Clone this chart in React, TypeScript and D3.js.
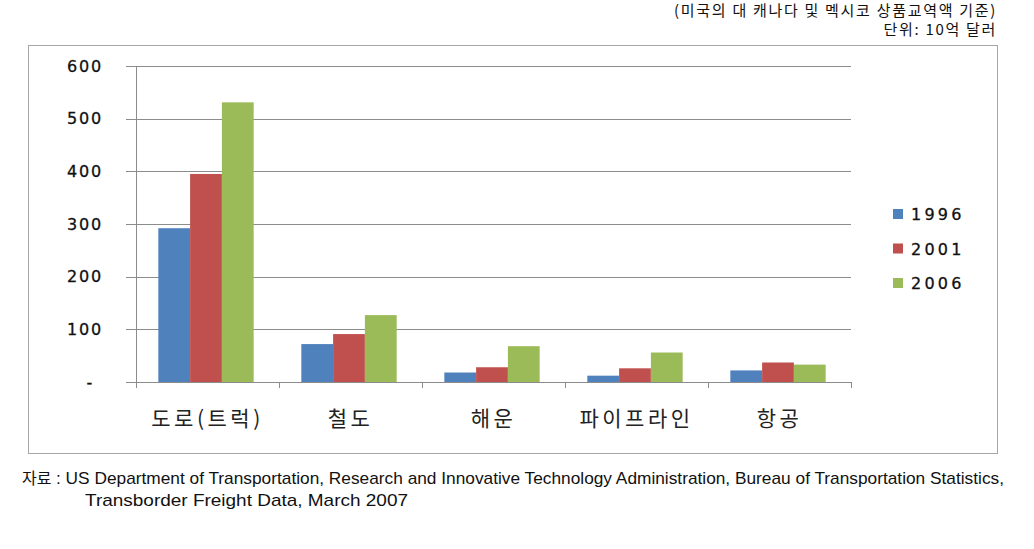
import React, { useEffect, useRef } from 'react';
import * as d3 from 'd3';

const categories = ['도로(트럭)', '철도', '해운', '파이프라인', '항공'];
const seriesNames = ['1996', '2001', '2006'];
const values1996 = [292, 72, 18, 12, 22];
const values2001 = [395, 91, 28, 26, 37];
const values2006 = [531, 127, 68, 56, 33];
const yTicks = [0, 100, 200, 300, 400, 500, 600];
const colors = ['#4F81BD', '#C0504D', '#9BBB59'];

const App: React.FC = () => {
  const svgRef = useRef<SVGSVGElement>(null);
  const width = 1034;
  const height = 549;

  useEffect(() => {
    if (!svgRef.current) return;
    const svg = d3.select(svgRef.current);
    svg.selectAll('*').remove();

    svg.append('rect').attr('width', width).attr('height', height).attr('fill', '#fff');

    // outer chart frame
    svg.append('rect')
      .attr('x', 28.5).attr('y', 45.5)
      .attr('width', 969).attr('height', 408)
      .attr('fill', 'none')
      .attr('stroke', '#a6a6a6')
      .attr('stroke-width', 1);

    const plot = { left: 136, right: 851, top: 66, bottom: 382 };

    const x = d3.scaleBand<string>()
      .domain(categories)
      .range([plot.left, plot.right])
      .paddingInner(0)
      .paddingOuter(0);

    // bars take ~2/3 of each category slot
    const inner = d3.scaleBand<string>()
      .domain(seriesNames)
      .range([-1.5, x.bandwidth() - 1.5])
      .paddingOuter(0.75)
      .paddingInner(0);

    const y = d3.scaleLinear().domain([0, 600]).range([plot.bottom, plot.top]);

    const g = svg.append('g');

    // gridlines + y labels
    yTicks.forEach(t => {
      g.append('line')
        .attr('x1', plot.left - 10).attr('x2', plot.right)
        .attr('y1', Math.round(y(t)) + 0.5).attr('y2', Math.round(y(t)) + 0.5)
        .attr('stroke', '#8c8c8c').attr('stroke-width', 1);
      g.append('text')
        .attr('x', t === 0 ? 94 : 103)
        .attr('y', y(t) + 5.5)
        .attr('text-anchor', 'end')
        .attr('font-family', 'DejaVu Sans, Verdana, sans-serif')
        .attr('font-size', 16)
        .attr('letter-spacing', 1.8)
        .attr('fill', '#111')
        .attr('stroke', '#111')
        .attr('stroke-width', 0.3)
        .text(t === 0 ? '-' : String(t));
    });

    // y axis
    g.append('line')
      .attr('x1', plot.left + 0.5).attr('x2', plot.left + 0.5)
      .attr('y1', plot.top).attr('y2', plot.bottom + 6)
      .attr('stroke', '#8c8c8c');

    // x ticks
    const tickPos = categories.map(c => x(c) as number).concat([plot.right]);
    tickPos.forEach(p => {
      g.append('line')
        .attr('x1', Math.round(p) + 0.5).attr('x2', Math.round(p) + 0.5)
        .attr('y1', plot.bottom).attr('y2', plot.bottom + 6)
        .attr('stroke', '#8c8c8c');
    });

    const series = [values1996, values2001, values2006];
    series.forEach((vals, si) => {
      g.selectAll(`.bar-${si}`)
        .data(vals)
        .enter()
        .append('rect')
        .attr('x', (_d, i) => (x(categories[i]) as number) + (inner(seriesNames[si]) as number))
        .attr('y', d => y(d))
        .attr('width', inner.bandwidth())
        .attr('height', d => plot.bottom - y(d))
        .attr('fill', colors[si]);
    });

    // category labels
    categories.forEach(c => {
      g.append('text')
        .attr('x', (x(c) as number) + x.bandwidth() / 2)
        .attr('y', 426)
        .attr('text-anchor', 'middle')
        .attr('font-family', 'Noto Sans CJK KR, sans-serif')
        .attr('font-size', 21)
        .attr('letter-spacing', 3.5)
        .attr('fill', '#222')
        .text(c);
    });

    // legend
    const legend = svg.append('g');
    seriesNames.forEach((s, i) => {
      const ly = 214 + i * 34.5;
      legend.append('rect')
        .attr('x', 893).attr('y', ly - 5)
        .attr('width', 10).attr('height', 10)
        .attr('fill', colors[i]);
      legend.append('text')
        .attr('x', 911).attr('y', ly + 6)
        .attr('font-family', 'DejaVu Sans, Verdana, sans-serif')
        .attr('font-size', 16)
        .attr('letter-spacing', 3.2)
        .attr('fill', '#111')
        .attr('stroke', '#111')
        .attr('stroke-width', 0.3)
        .text(s);
    });

    // notes
    svg.append('text')
      .attr('x', 997).attr('y', 16)
      .attr('text-anchor', 'end')
      .attr('font-family', 'Noto Sans CJK KR, sans-serif')
      .attr('font-size', 15)
      .attr('letter-spacing', 1.7)
      .attr('fill', '#111')
      .text('(미국의 대 캐나다 및 멕시코 상품교역액 기준)');
    svg.append('text')
      .attr('x', 997).attr('y', 35)
      .attr('text-anchor', 'end')
      .attr('font-family', 'Noto Sans CJK KR, sans-serif')
      .attr('font-size', 15)
      .attr('letter-spacing', 1.7)
      .attr('fill', '#111')
      .text('단위: 10억 달러');

    svg.append('text')
      .attr('x', 22).attr('y', 484)
      .attr('font-family', 'Noto Sans CJK KR, sans-serif')
      .attr('font-size', 16)
      .attr('fill', '#111')
      .text('자료');
    svg.append('text')
      .attr('x', 56).attr('y', 484)
      .attr('font-family', 'Liberation Sans Narrow, Liberation Sans, sans-serif')
      .attr('font-size', 17)
      .attr('fill', '#111')
      .attr('textLength', 948)
      .attr('lengthAdjust', 'spacingAndGlyphs')
      .text(': US Department of Transportation, Research and Innovative Technology Administration, Bureau of Transportation Statistics,');
    svg.append('text')
      .attr('x', 85).attr('y', 506)
      .attr('font-family', 'Liberation Sans Narrow, Liberation Sans, sans-serif')
      .attr('font-size', 17)
      .attr('fill', '#111')
      .attr('textLength', 323)
      .attr('lengthAdjust', 'spacingAndGlyphs')
      .text('Transborder Freight Data, March 2007');
  }, []);

  return (
    <svg
      ref={svgRef}
      width={width}
      height={height}
      style={{ position: 'absolute', left: 0, top: 0, display: 'block' }}
    />
  );
};

export default App;
